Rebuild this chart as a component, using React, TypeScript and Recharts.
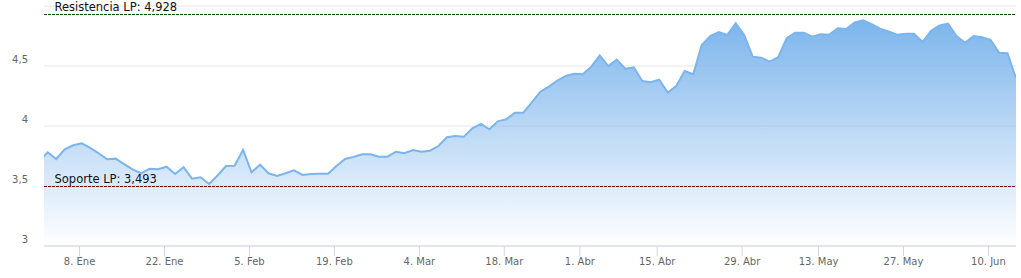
import React from "react";
import { ComposedChart, Area, XAxis, YAxis, CartesianGrid, ReferenceLine } from "recharts";

// Trading sessions (ISO dates) – ordinal axis, holidays collapsed
const sessionsDec = ["2023-12-29"];
const sessionsJan = ["2024-01-02","2024-01-03","2024-01-04","2024-01-05","2024-01-08","2024-01-09","2024-01-10","2024-01-11","2024-01-12","2024-01-15","2024-01-16","2024-01-17","2024-01-18","2024-01-19","2024-01-22","2024-01-23","2024-01-24","2024-01-25","2024-01-26","2024-01-29","2024-01-30","2024-01-31"];
const sessionsFeb = ["2024-02-01","2024-02-02","2024-02-05","2024-02-06","2024-02-07","2024-02-08","2024-02-09","2024-02-12","2024-02-13","2024-02-14","2024-02-15","2024-02-16","2024-02-19","2024-02-20","2024-02-21","2024-02-22","2024-02-23","2024-02-26","2024-02-27","2024-02-28","2024-02-29"];
const sessionsMar = ["2024-03-01","2024-03-04","2024-03-05","2024-03-06","2024-03-07","2024-03-08","2024-03-11","2024-03-12","2024-03-13","2024-03-14","2024-03-15","2024-03-18","2024-03-19","2024-03-20","2024-03-21","2024-03-22","2024-03-25","2024-03-26","2024-03-27","2024-03-28"];
const sessionsApr = ["2024-04-02","2024-04-03","2024-04-04","2024-04-05","2024-04-08","2024-04-09","2024-04-10","2024-04-11","2024-04-12","2024-04-15","2024-04-16","2024-04-17","2024-04-18","2024-04-19","2024-04-22","2024-04-23","2024-04-24","2024-04-25","2024-04-26","2024-04-29","2024-04-30"];
const sessionsMay = ["2024-05-02","2024-05-03","2024-05-06","2024-05-07","2024-05-08","2024-05-09","2024-05-10","2024-05-13","2024-05-14","2024-05-15","2024-05-16","2024-05-17","2024-05-20","2024-05-21","2024-05-22","2024-05-23","2024-05-24","2024-05-27","2024-05-28","2024-05-29","2024-05-30","2024-05-31"];
const sessionsJun = ["2024-06-03","2024-06-04","2024-06-05","2024-06-06","2024-06-07","2024-06-10","2024-06-11","2024-06-12","2024-06-13"];

// Closing prices
const closesDec = [3.706];
const closesJan = [3.781,3.725,3.806,3.839,3.856,3.817,3.773,3.723,3.728,3.683,3.639,3.606,3.644,3.639,3.661,3.600,3.656,3.561,3.573,3.517,3.588,3.667];
const closesFeb = [3.669,3.800,3.614,3.678,3.606,3.583,3.606,3.631,3.592,3.600,3.603,3.603,3.667,3.725,3.742,3.764,3.764,3.744,3.744,3.786,3.773];
const closesMar = [3.800,3.786,3.794,3.833,3.906,3.917,3.911,3.981,4.017,3.973,4.039,4.056,4.111,4.111,4.196,4.286,4.328,4.378,4.417,4.436];
const closesApr = [4.431,4.494,4.589,4.500,4.553,4.478,4.489,4.375,4.364,4.386,4.278,4.333,4.458,4.431,4.675,4.750,4.783,4.758,4.856,4.758,4.578];
const closesMay = [4.569,4.536,4.573,4.731,4.778,4.778,4.744,4.764,4.761,4.814,4.808,4.864,4.881,4.848,4.811,4.789,4.761,4.769,4.769,4.700,4.794,4.839];
const closesJun = [4.853,4.750,4.694,4.750,4.739,4.717,4.611,4.606,4.398];

const tickDates = ["2024-01-08","2024-01-22","2024-02-05","2024-02-19","2024-03-04","2024-03-18","2024-04-01","2024-04-15","2024-04-29","2024-05-13","2024-05-27","2024-06-10"];
const tickLabels = ["8. Ene","22. Ene","5. Feb","19. Feb","4. Mar","18. Mar","1. Abr","15. Abr","29. Abr","13. May","27. May","10. Jun"];
const viewStartDate = "2024-01-01";
const closeTime = "T17:35:00Z";

const yTicks = [3, 3.5, 4, 4.5, 5];
const yLabels = ["3", "3,5", "4", "4,5", ""];
const resistance = 4.928;
const support = 3.493;
const resistanceLabel = "Resistencia LP: 4,928";
const supportLabel = "Soporte LP: 3,493";

const sessions = [...sessionsDec, ...sessionsJan, ...sessionsFeb, ...sessionsMar, ...sessionsApr, ...sessionsMay, ...sessionsJun];
const closes = [...closesDec, ...closesJan, ...closesFeb, ...closesMar, ...closesApr, ...closesMay, ...closesJun];
const sessionTimes = sessions.map((d) => new Date(d + closeTime).getTime());

// ordinal position of an arbitrary timestamp (midnight) between sessions
function ordinalPos(dateStr: string): number {
  const t = new Date(dateStr + "T00:00:00Z").getTime();
  for (let k = 0; k < sessionTimes.length - 1; k++) {
    if (t >= sessionTimes[k] && t <= sessionTimes[k + 1]) {
      return k + (t - sessionTimes[k]) / (sessionTimes[k + 1] - sessionTimes[k]);
    }
  }
  return 0;
}

const data = sessions.map((d, i) => ({ i, date: d, close: closes[i] }));
const tickPositions = tickDates.map(ordinalPos);
const xMin = ordinalPos(viewStartDate);
const xMax = sessions.length - 1;

const FONT = "'DejaVu Sans', 'Lucida Grande', Verdana, sans-serif";

const XTick = (props: any) => {
  const { x, y, payload } = props;
  const idx = tickPositions.findIndex((p) => Math.abs(p - payload.value) < 1e-6);
  return (
    <text x={x} y={y + 7} textAnchor="middle" fontSize={10} fontFamily={FONT} fill="#666666">
      {idx >= 0 ? tickLabels[idx] : ""}
    </text>
  );
};

const YTick = (props: any) => {
  const { x, y, payload } = props;
  const idx = yTicks.indexOf(payload.value);
  const label = idx >= 0 ? yLabels[idx] : "";
  if (!label) return <g />;
  return (
    <text x={x} y={y - 3} textAnchor="end" fontSize={10} fontFamily={FONT} fill="#666666">
      {label}
    </text>
  );
};

const makeLabel = (text: string) => (props: any) => {
  const vb = props.viewBox || {};
  return (
    <text x={(vb.x || 0) + 10.5} y={(vb.y || 0) - 4} fontSize={11.5} fontFamily={FONT} fill="#111111">
      {text}
    </text>
  );
};

export default function App() {
  return (
    <div style={{ position: "absolute", left: 0, top: 0, width: 1021, height: 278, background: "#ffffff" }}>
      <ComposedChart width={1021} height={278} data={data} margin={{ top: 6, right: 5, bottom: 0, left: 0 }}>
        <defs>
          <linearGradient id="areaFill" x1="0" y1="0" x2="0" y2="1">
            <stop offset="0%" stopColor="#7cb5ec" stopOpacity={1} />
            <stop offset="100%" stopColor="#7cb5ec" stopOpacity={0} />
          </linearGradient>
        </defs>
        <CartesianGrid vertical={false} stroke="#e6e6e6" strokeWidth={1} />
        <XAxis
          type="number"
          dataKey="i"
          domain={[xMin, xMax]}
          allowDataOverflow
          ticks={tickPositions}
          interval={0}
          height={32}
          tickSize={10}
          tickMargin={2}
          axisLine={{ stroke: "#ccd6eb" }}
          tickLine={{ stroke: "#ccd6eb" }}
          tick={<XTick />}
        />
        <YAxis
          type="number"
          domain={[3, 5]}
          ticks={yTicks}
          interval={0}
          width={44}
          axisLine={false}
          tickLine={false}
          tickSize={0}
          tickMargin={16}
          tick={<YTick />}
        />
        <Area
          type="linear"
          dataKey="close"
          stroke="#7cb5ec"
          strokeWidth={2}
          fill="url(#areaFill)"
          fillOpacity={1}
          dot={false}
          activeDot={false}
          isAnimationActive={false}
        />
        <ReferenceLine y={resistance} stroke="#005200" strokeWidth={1} strokeDasharray="3 1" shapeRendering="crispEdges" label={makeLabel(resistanceLabel)} />
        <ReferenceLine y={support} stroke="#800000" strokeWidth={1} strokeDasharray="3 1" shapeRendering="crispEdges" label={makeLabel(supportLabel)} />
      </ComposedChart>
    </div>
  );
}
